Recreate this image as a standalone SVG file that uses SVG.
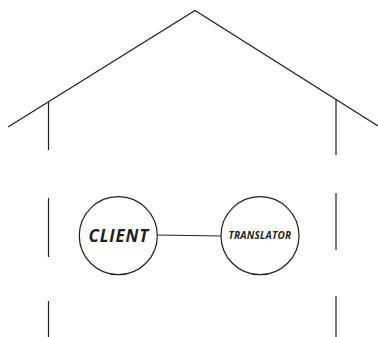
<svg xmlns="http://www.w3.org/2000/svg" width="378" height="337" viewBox="0 0 378 337">
<style>
.ln{stroke:#231f20;stroke-width:1.2;fill:none}
.nd{stroke:#231f20;stroke-width:1.2;fill:#fff}
.lb{font-family:"Open Sans","Noto Sans",sans-serif;font-weight:bold;font-style:italic;fill:#231f20;text-anchor:middle}
</style>
<rect width="378" height="337" fill="#fff"/>
<g id="house">
<polyline class="ln" points="8,127 195,10.5 378,126"/>
<line class="ln" x1="48.5" y1="102" x2="48.5" y2="150"/>
<line class="ln" x1="48.5" y1="198" x2="48.5" y2="257"/>
<line class="ln" x1="48.5" y1="301" x2="48.5" y2="337"/>
<line class="ln" x1="336" y1="99" x2="336" y2="155"/>
<line class="ln" x1="336" y1="193" x2="336" y2="250"/>
<line class="ln" x1="336" y1="296" x2="336" y2="337"/>
</g>
<g id="connectors">
<line class="ln" x1="157.3" y1="235" x2="221" y2="236"/>
</g>
<g id="client">
<circle class="nd" cx="118.3" cy="235.7" r="39"/>
<text class="lb" x="118.8" y="242.3" font-size="17" letter-spacing="0.8">CLIENT</text>
</g>
<g id="translator">
<circle class="nd" cx="260" cy="235.7" r="39"/>
<text class="lb" x="259.9" y="238.8" font-size="10" letter-spacing="0.2">TRANSLATOR</text>
</g>
</svg>
